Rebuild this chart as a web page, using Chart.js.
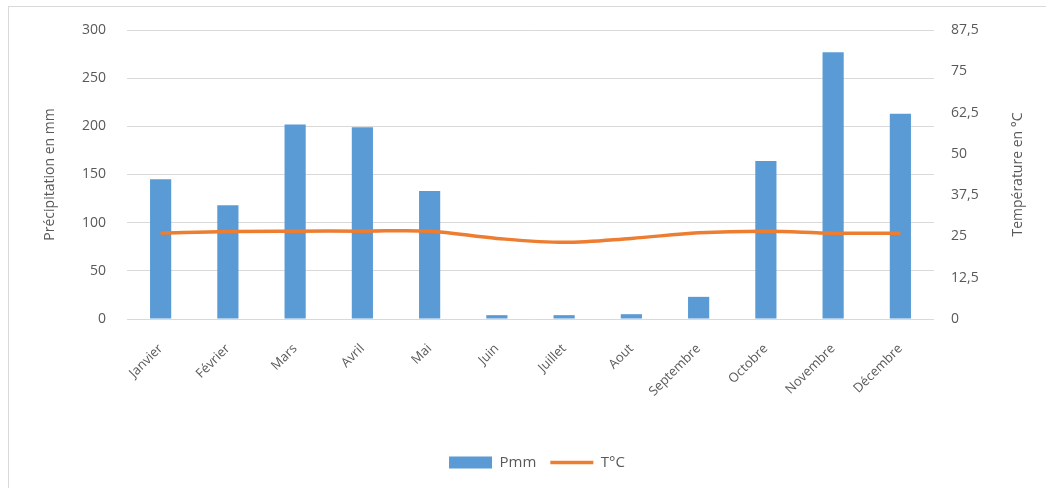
<!DOCTYPE html>
<html>
<head>
<meta charset="utf-8">
<script src="https://cdn.jsdelivr.net/npm/chart.js@4"></script>
<style>
    html, body { margin: 0; padding: 0; background: #fff; }
    #cadre { position: absolute; left: 8px; top: 6px; width: 1040px; height: 490px; border: 1px solid #d9d9d9; }
    #zone { position: absolute; left: 0; top: 0; width: 1046px; height: 488px; }
</style>
</head>
<body>
<div id="cadre"></div>
<div id="zone"><canvas id="chartClimat"></canvas></div>
<script>
const mois = ['Janvier', 'Février', 'Mars', 'Avril', 'Mai', 'Juin', 'Juillet', 'Aout', 'Septembre', 'Octobre', 'Novembre', 'Décembre'];
const precipitations = [145, 118, 202, 199, 133, 4, 4, 5, 23, 164, 277, 213];
const temperatures = [26.0, 26.5, 26.6, 26.6, 26.6, 24.4, 23.2, 24.4, 26.1, 26.6, 26.0, 26.0];
const ticksPluie = [0, 50, 100, 150, 200, 250, 300];
const ticksTemp = [0, 12.5, 25, 37.5, 50, 62.5, 75, 87.5];

const gris = '#595959';
const police = "'Open Sans', 'Noto Sans', sans-serif";

// titre de l'axe droit, lu de bas en haut comme dans Excel
const titreDroit = {
    id: 'titreDroit',
    afterDraw(chart) {
        const { ctx, chartArea } = chart;
        ctx.save();
        ctx.translate(1018, (chartArea.top + chartArea.bottom) / 2);
        ctx.rotate(-Math.PI / 2);
        ctx.font = '14px ' + police;
        ctx.fillStyle = gris;
        ctx.textAlign = 'center';
        ctx.textBaseline = 'middle';
        ctx.fillText('Température en °C', 0, 0);
        ctx.restore();
    },
};

new Chart(document.getElementById('chartClimat'), {
    data: {
        labels: mois,
        datasets: [{
            type: 'line',
            label: 'T°C',
            data: temperatures,
            yAxisID: 'yTemp',
            borderColor: '#ED7D31',
            backgroundColor: '#ED7D31',
            borderWidth: 3.5,
            pointRadius: 0,
            pointHoverRadius: 0,
            pointStyle: 'line',
            tension: 0.35,
            order: 0,
        }, {
            type: 'bar',
            label: 'Pmm',
            data: precipitations,
            yAxisID: 'yPluie',
            backgroundColor: '#5B9BD5',
            borderWidth: 0,
            barPercentage: 0.315,
            categoryPercentage: 1,
            pointStyle: 'rect',
            order: 1,
        }],
    },
    options: {
        responsive: true,
        maintainAspectRatio: false,
        animation: false,
        locale: 'fr-FR',
        layout: { padding: { top: 30, bottom: 8, left: 28, right: 0 } },
        plugins: {
            legend: {
                position: 'bottom',
                reverse: true,
                labels: {
                    usePointStyle: true,
                    pointStyleWidth: 43,
                    boxHeight: 12,
                    padding: 14,
                    color: gris,
                    font: { family: police, size: 15 },
                },
            },
            tooltip: { enabled: false },
        },
        scales: {
            x: {
                grid: { display: false, drawTicks: false },
                border: { display: false },
                ticks: {
                    color: gris,
                    font: { family: police, size: 13 },
                    minRotation: 45,
                    maxRotation: 45,
                    padding: 22,
                    autoSkip: false,
                },
                afterFit(scale) { scale.height = 122; },
            },
            yPluie: {
                position: 'left',
                min: 0,
                max: 300,
                afterBuildTicks(scale) { scale.ticks = ticksPluie.map(v => ({ value: v })); },
                grid: { color: '#d9d9d9', lineWidth: 1, drawTicks: false },
                border: { display: false },
                ticks: { color: gris, font: { family: police, size: 14 }, padding: 21 },
                title: {
                    display: true,
                    text: 'Précipitation en mm',
                    color: gris,
                    font: { family: police, size: 14 },
                    padding: { top: 14, bottom: 0 },
                },
                afterFit(scale) { scale.width = 99; },
            },
            yTemp: {
                position: 'right',
                min: 0,
                max: 87.5,
                afterBuildTicks(scale) { scale.ticks = ticksTemp.map(v => ({ value: v })); },
                grid: { display: false, drawTicks: false },
                border: { display: false },
                ticks: { color: gris, font: { family: police, size: 14 }, padding: 17 },
                afterFit(scale) { scale.width = 112; },
            },
        },
    },
    plugins: [titreDroit],
});
</script>
</body>
</html>
